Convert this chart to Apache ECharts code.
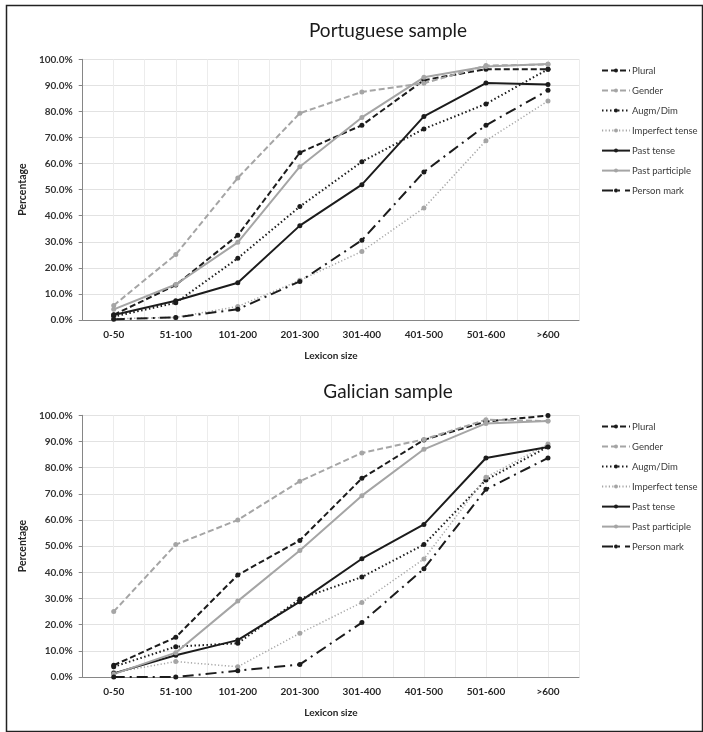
<!DOCTYPE html>
<html>
<head>
<meta charset="utf-8">
<script src="https://cdn.jsdelivr.net/npm/echarts@6/dist/echarts.min.js"></script>
<style>
  html, body { margin: 0; padding: 0; background: #fff; }
  #chart { width: 703px; height: 732px; }
</style>
</head>
<body>
<div id="chart"></div>
<script>
// Lexicon size bands on the x axis
const categories = ['0-50', '51-100', '101-200', '201-300', '301-400', '401-500', '501-600', '>600'];
const seriesNames = ['Plural', 'Gender', 'Augm/Dim', 'Imperfect tense', 'Past tense', 'Past participle', 'Person mark'];
const yTicks = [0, 10, 20, 30, 40, 50, 60, 70, 80, 90, 100];

// Portuguese sample (% of children producing each form)
const ptPlural         = [2.0, 13.4, 32.5, 64.2, 74.7, 92.0, 96.2, 96.2];
const ptGender         = [5.6, 25.1, 54.5, 79.3, 87.5, 90.8, 97.6, 98.0];
const ptAugmDim        = [1.3, 6.6, 23.7, 43.5, 60.7, 73.3, 82.9, 96.2];
const ptImperfect      = [0.5, 1.0, 5.2, 15.2, 26.3, 43.0, 68.8, 84.0];
const ptPastTense      = [1.9, 7.4, 14.3, 36.2, 51.9, 78.1, 90.9, 90.3];
const ptPastParticiple = [4.1, 13.6, 29.8, 58.8, 77.7, 93.1, 97.2, 98.2];
const ptPersonMark     = [0.3, 1.0, 4.1, 14.8, 30.6, 56.8, 74.7, 88.1];

// Galician sample
const glPlural         = [4.5, 15.2, 39.0, 52.2, 75.9, 90.6, 97.6, 99.9];
const glGender         = [25.0, 50.6, 60.0, 74.8, 85.6, 90.8, 98.3, 97.8];
const glAugmDim        = [3.9, 11.6, 12.9, 29.8, 38.2, 50.6, 75.3, 88.0];
const glImperfect      = [1.7, 5.9, 3.9, 16.7, 28.5, 45.1, 76.3, 89.0];
const glPastTense      = [1.4, 8.3, 14.1, 28.8, 45.2, 58.3, 83.7, 87.9];
const glPastParticiple = [1.1, 9.3, 29.0, 48.3, 69.3, 87.0, 96.9, 97.8];
const glPersonMark     = [0, 0, 2.4, 4.8, 20.8, 41.4, 71.7, 83.7];

const ptData = [ptPlural, ptGender, ptAugmDim, ptImperfect, ptPastTense, ptPastParticiple, ptPersonMark];
const glData = [glPlural, glGender, glAugmDim, glImperfect, glPastTense, glPastParticiple, glPersonMark];

const DARK = '#1c1c1c';
const GREY = '#a5a5a5';
const FONT = 'Lato, "Open Sans", sans-serif';

// line look per form
const styles = [
  { color: DARK, type: [6, 3], width: 2 },
  { color: GREY, type: [6, 3], width: 2 },
  { color: DARK, type: [1.5, 2.5], width: 2 },
  { color: GREY, type: [1.2, 2.2], width: 1.5 },
  { color: DARK, type: 'solid', width: 2 },
  { color: GREY, type: 'solid', width: 2 },
  { color: DARK, type: [11, 5, 2, 5], width: 2 }
];

function makeSeries(dataSets, gridIndex) {
  return dataSets.map((vals, i) => ({
    name: seriesNames[i],
    type: 'line',
    xAxisIndex: gridIndex * 2,
    yAxisIndex: gridIndex,
    data: vals,
    symbol: 'circle',
    symbolSize: 5,
    itemStyle: { color: styles[i].color },
    lineStyle: { color: styles[i].color, type: styles[i].type, width: styles[i].width },
    emphasis: { disabled: true },
    animation: false,
    z: 3
  }));
}

const gridTops = [59.3, 415.3];
const gridBottoms = [412, 55];
const titles = ['Portuguese sample', 'Galician sample'];
const titleTops = [16, 377];
const legendTops = [60.6, 416.6];

const grids = [], xAxes = [], yAxes = [], legends = [], titleList = [];
let series = [];

// 16 half-category slots give the faint vertical guides at centres and boundaries
const halfSlots = new Array(16).fill('');

for (let g = 0; g < 2; g++) {
  grids.push({ left: 82.7, right: 124, top: gridTops[g], bottom: gridBottoms[g] });
  xAxes.push({
    type: 'category', gridIndex: g, data: categories, boundaryGap: true,
    name: 'Lexicon size', nameLocation: 'middle', nameGap: 31,
    nameTextStyle: { fontFamily: FONT, fontWeight: 'bold', fontSize: 10, color: '#262626' },
    axisLine: { lineStyle: { color: '#868686', width: 1 } },
    axisTick: { alignWithLabel: true, length: 4, lineStyle: { color: '#868686' } },
    axisLabel: { fontFamily: FONT, fontWeight: 'bold', fontSize: 10, color: '#262626', margin: 10 },
    splitLine: { show: false }
  });
  xAxes.push({
    type: 'category', gridIndex: g, data: halfSlots, boundaryGap: true,
    position: 'bottom',
    axisLine: { show: false }, axisTick: { show: false }, axisLabel: { show: false },
    splitLine: { show: true, interval: 0, lineStyle: { color: '#ececec', width: 1 } }
  });
  yAxes.push({
    type: 'value', gridIndex: g, min: 0, max: 100, interval: 10,
    name: 'Percentage', nameLocation: 'middle', nameGap: 49, nameRotate: 90,
    nameTextStyle: { fontFamily: FONT, fontWeight: 'bold', fontSize: 10.5, color: '#262626' },
    axisLine: { show: true, lineStyle: { color: '#868686', width: 1 } },
    axisTick: { show: true, length: 4, lineStyle: { color: '#868686' } },
    axisLabel: { fontFamily: FONT, fontWeight: 'bold', fontSize: 10, color: '#333', margin: 10,
                 formatter: v => (yTicks.includes(v) ? v.toFixed(1) + '%' : '') },
    splitLine: { show: true, lineStyle: { color: '#e2e2e2', width: 1 } }
  });
  legends.push({
    orient: 'vertical', left: 596, top: legendTops[g],
    itemWidth: 28, itemHeight: 5, itemGap: 10,
    data: seriesNames, selectedMode: false,
    textStyle: { fontFamily: FONT, fontSize: 9.5, color: '#3a3a3a', padding: [0, 0, 0, -3] }
  });
  titleList.push({
    text: titles[g], left: 383, top: titleTops[g], textAlign: 'center',
    textStyle: { fontFamily: FONT, fontWeight: 'normal', fontSize: 19, color: '#1a1a1a' }
  });
  series = series.concat(makeSeries(g === 0 ? ptData : glData, g));
}

const chart = echarts.init(document.getElementById('chart'), null, { renderer: 'canvas' });
chart.setOption({
  backgroundColor: '#fff',
  animation: false,
  title: titleList,
  grid: grids,
  xAxis: xAxes,
  yAxis: yAxes,
  legend: legends,
  series: series,
  graphic: [{
    type: 'rect', left: 4, top: 3,
    shape: { width: 696, height: 726 },
    style: { fill: 'none', stroke: '#222', lineWidth: 1.5 },
    z: -1
  }]
});
</script>
</body>
</html>
